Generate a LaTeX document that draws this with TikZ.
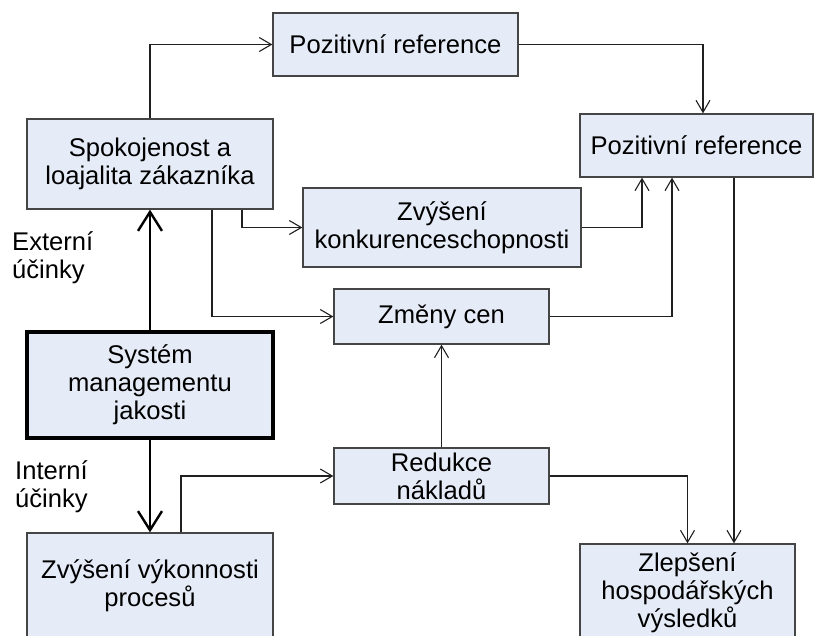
\documentclass[tikz,border=0pt]{standalone}
\usepackage{fontspec}
\setmainfont{Liberation Sans}
\usetikzlibrary{arrows.meta,calc}
\definecolor{boxfill}{HTML}{E6ECF7}
\definecolor{boxline}{HTML}{454545}
\definecolor{conline}{HTML}{202020}
\begin{document}
\begin{tikzpicture}[x=1pt,y=-1pt,
  every node/.style={font=\fontsize{25.6}{28}\selectfont},
  bx/.style={draw=boxline,line width=1.3pt,fill=boxfill,inner sep=0pt,align=center},
  arr/.style={draw=conline,line width=1.1pt,-{Straight Barb[length=12pt,width=14pt]}},
  thickarr/.style={draw=black,line width=2.4pt,-{Straight Barb[length=19pt,width=24pt]}},
  lbl/.style={align=left,anchor=west,inner sep=0pt}]
\useasboundingbox (0,0) rectangle (814,635);
\clip (0,0) rectangle (814,635);
\node[bx,minimum width=245pt,minimum height=63pt] (pr1) at (395.5,44.5) {Pozitivní reference};
\node[bx,minimum width=233pt,minimum height=63pt] (pr2) at (696.5,145.5) {Pozitivní reference};
\node[bx,minimum width=246pt,minimum height=90pt] (spok) at (150,164) {Spokojenost a\\loajalita zákazníka};
\node[bx,minimum width=278pt,minimum height=79pt] (konk) at (442,227.5) {Zvýšení\\konkurenceschopnosti};
\node[bx,minimum width=215pt,minimum height=55pt] (zmeny) at (441.5,316.5) {Změny cen};
\node[bx,line width=3.8pt,draw=black,minimum width=246pt,minimum height=106pt] (sys) at (150,385) {Systém\\managementu\\jakosti};
\node[bx,minimum width=215pt,minimum height=56pt] (red) at (441.5,476) {Redukce\\nákladů};
\node[bx,minimum width=246pt,minimum height=106pt] (vyk) at (150,586) {Zvýšení výkonnosti\\procesů};
\node[bx,minimum width=215pt,minimum height=98pt] (zlep) at (687.5,593) {Zlepšení\\hospodářských\\výsledků};
\node[lbl] (ext) at (12,258) {Externí\\účinky};
\node[lbl] (int) at (15,487) {Interní\\účinky};
% connectors
\draw[arr] (spok.north) |- (pr1.west);
\draw[arr] (pr1.east) -| ($(pr2.north)+(6.5,0)$);
\draw[arr] ($(spok.south)+(92,0)$) |- (konk.west);
\draw[arr] ($(spok.south)+(62,0)$) |- (zmeny.west);
\draw[thickarr] (sys.north) -- (spok.south);
\draw[thickarr] (sys.south) -- (vyk.north);
\draw[arr] ($(vyk.north)+(31,0)$) |- (red.west);
\draw[arr] (red.north) -- (zmeny.south);
\draw[arr] (red.east) -| (zlep.north);
\draw[arr] ($(pr2.south)+(37.5,0)$) coordinate (a) -- (a |- zlep.north);
\draw[arr] (zmeny.east) -| ($(pr2.south)+(-24.5,0)$);
\draw[arr] (konk.east) -| ($(pr2.south)+(-54.5,0)$);
\end{tikzpicture}
\end{document}
